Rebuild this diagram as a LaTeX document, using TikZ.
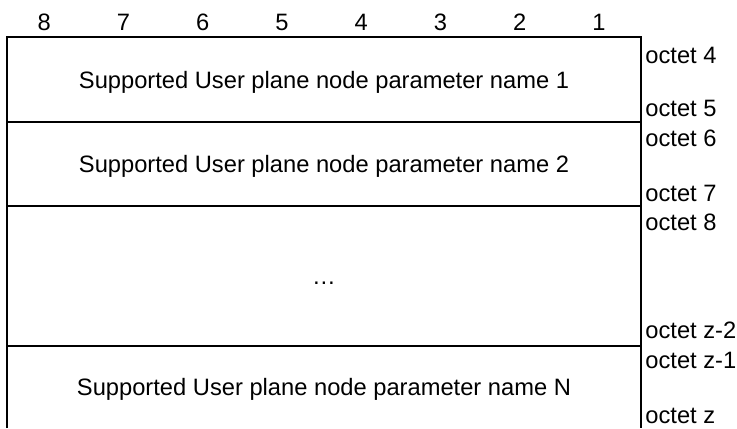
\documentclass[tikz,border=0pt]{standalone}
\usepackage{fontspec}
\setmainfont{Liberation Sans}
\usepackage{tikz}

\begin{document}
\begin{tikzpicture}[x=0.5pt,y=-0.5pt,
    every node/.style={font=\fontsize{11.85}{14}\selectfont, inner sep=0pt},
    bitno/.style={anchor=base},
    fldtxt/.style={anchor=base},
    octlbl/.style={anchor=base west}]
    \useasboundingbox (0,0) rectangle (737,428);

    % bit numbers
    \foreach \b [count=\i] in {8,...,1} {
        \node [bitno] (bit\b) at ({7+79.25*(\i-0.5)-2.5},30.5) {\b};
    }

    % frame
    \coordinate (tl) at (7,37);   \coordinate (tr) at (641,37);
    \coordinate (l1) at (7,122);  \coordinate (r1) at (641,122);
    \coordinate (l2) at (7,206);  \coordinate (r2) at (641,206);
    \coordinate (l3) at (7,346);  \coordinate (r3) at (641,346);
    \coordinate (bl) at (7,428);  \coordinate (br) at (641,428);
    \draw [line width=1pt] (bl) -- (tl) -- (tr) -- (br);
    \draw [line width=1pt] (l1) -- (r1);
    \draw [line width=1pt] (l2) -- (r2);
    \draw [line width=1pt] (l3) -- (r3);

    % fields
    \node [fldtxt] (F1) at (324,88) {Supported User plane node parameter name 1};
    \node [fldtxt] (F2) at (324,172.5) {Supported User plane node parameter name 2};
    \node [] (Fdots) at (324,283) {…};
    \node [fldtxt] (FN) at (324,395.5) {Supported User plane node parameter name N};

    % octets
    \node [octlbl] (o4) at (645,63.5) {octet 4};
    \node [octlbl] (o5) at (645,116.5) {octet 5};
    \node [octlbl] (o6) at (645,146.5) {octet 6};
    \node [octlbl] (o7) at (645,201.5) {octet 7};
    \node [octlbl] (o8) at (645,230.5) {octet 8};
    \node [octlbl] (oz2) at (645,338.5) {octet z-2};
    \node [octlbl] (oz1) at (645,368.5) {octet z-1};
    \node [octlbl] (oz) at (645,423.5) {octet z};
\end{tikzpicture}
\end{document}
